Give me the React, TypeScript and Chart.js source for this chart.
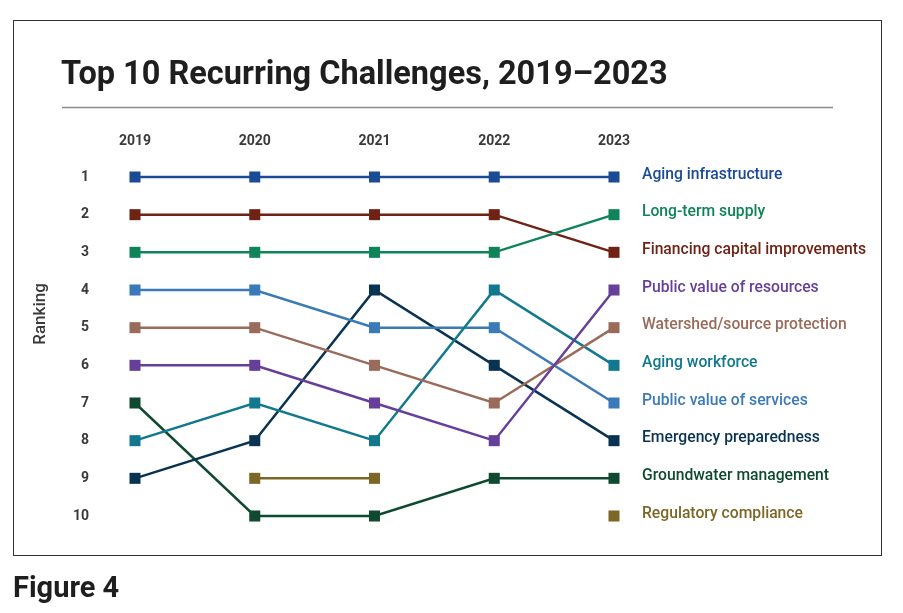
import { useEffect, useRef } from "react";
import { Chart, registerables } from "chart.js";

Chart.register(...registerables);

const years = ["2019", "2020", "2021", "2022", "2023"];
const rankMin = 1;
const rankMax = 10;

const seriesNames = [
  "Aging infrastructure",
  "Long-term supply",
  "Financing capital improvements",
  "Public value of resources",
  "Watershed/source protection",
  "Aging workforce",
  "Public value of services",
  "Emergency preparedness",
  "Groundwater management",
  "Regulatory compliance",
];

const agingInfrastructure = [1, 1, 1, 1, 1];
const longTermSupply = [3, 3, 3, 3, 2];
const financingCapital = [2, 2, 2, 2, 3];
const publicValueResources = [6, 6, 7, 8, 4];
const watershedProtection = [5, 5, 6, 7, 5];
const agingWorkforce = [8, 7, 8, 4, 6];
const publicValueServices = [4, 4, 5, 5, 7];
const emergencyPreparedness = [9, 8, 4, 6, 8];
const groundwaterManagement = [7, 10, 10, 9, 9];
const regulatoryCompliance = [null, 9, 9, null, 10];

const seriesColors = [
  "#1c4b96",
  "#0f8459",
  "#6e2315",
  "#653f9a",
  "#9a6b5a",
  "#117890",
  "#3a7ab8",
  "#0a3352",
  "#0f4a30",
  "#7c6726",
];

const titleText = "Top 10 Recurring Challenges, 2019\u20132023";
const figureText = "Figure 4";
const yTitleText = "Ranking";

export default function App() {
  const ref = useRef<HTMLCanvasElement | null>(null);

  useEffect(() => {
    if (!ref.current) return;
    const seriesData = [
      agingInfrastructure,
      longTermSupply,
      financingCapital,
      publicValueResources,
      watershedProtection,
      agingWorkforce,
      publicValueServices,
      emergencyPreparedness,
      groundwaterManagement,
      regulatoryCompliance,
    ];

    const decor = {
      id: "decor",
      afterDraw(chart: any) {
        const ctx = chart.ctx;
        const xs = chart.scales.x;
        const ys = chart.scales.y;
        ctx.save();
        // frame
        ctx.strokeStyle = "#333333";
        ctx.lineWidth = 1;
        ctx.strokeRect(13.5, 20.5, 868, 535);
        // title
        ctx.fillStyle = "#1e1e1e";
        ctx.font = "700 32.5px Roboto";
        ctx.textBaseline = "alphabetic";
        ctx.textAlign = "left";
        ctx.fillText(titleText, 61, 84);
        // rule
        ctx.strokeStyle = "#8a8a8a";
        ctx.lineWidth = 1.5;
        ctx.beginPath();
        ctx.moveTo(62, 107.5);
        ctx.lineTo(833, 107.5);
        ctx.stroke();
        // figure label
        ctx.fillStyle = "#1e1e1e";
        ctx.font = "700 29px Roboto";
        ctx.fillText(figureText, 13, 597);
        // y title
        ctx.save();
        ctx.translate(45, 314);
        ctx.rotate(-Math.PI / 2);
        ctx.textAlign = "center";
        ctx.textBaseline = "alphabetic";
        ctx.fillStyle = "#3a3a3a";
        ctx.font = "500 17px Roboto";
        ctx.fillText(yTitleText, 0, 0);
        ctx.restore();
        // right labels
        ctx.font = "500 15.7px Roboto";
        ctx.textAlign = "left";
        ctx.textBaseline = "alphabetic";
        seriesNames.forEach((name, i) => {
          const arr = seriesData[i];
          const last = arr[arr.length - 1];
          if (last == null) return;
          const y = ys.getPixelForValue(last);
          ctx.fillStyle = seriesColors[i];
          ctx.fillText(name, xs.right + 28, y + 1.5);
        });
        ctx.restore();
      },
    };

    const chart = new Chart(ref.current, {
      type: "line",
      data: {
        labels: years,
        datasets: seriesNames.map((name, i) => ({
          label: name,
          data: seriesData[i],
          borderColor: seriesColors[i],
          backgroundColor: seriesColors[i],
          borderWidth: 2.5,
          pointStyle: "rect",
          pointRadius: 7.8,
          pointHoverRadius: 7.8,
          pointBorderWidth: 0,
          spanGaps: false,
          tension: 0,
          clip: false,
        })),
      },
      options: {
        responsive: false,
        animation: false,
        devicePixelRatio: 1,
        layout: { padding: { top: 121, right: 289, bottom: 97, left: 0 } },
        plugins: {
          legend: { display: false },
          tooltip: { enabled: false },
          title: { display: false },
        },
        scales: {
          x: {
            type: "category",
            position: "top",
            offset: false,
            grid: { display: false, drawTicks: false },
            border: { display: false },
            ticks: {
              padding: 27,
              color: "#3a3a3a",
              font: { family: "Roboto", weight: "bold", size: 14 },
            },
            afterFit(scale: any) {
              scale.height = 56;
            },
          },
          y: {
            type: "linear",
            reverse: true,
            min: rankMin,
            max: rankMax,
            grid: { display: false, drawTicks: false },
            border: { display: false },
            ticks: {
              stepSize: 1,
              padding: 46,
              color: "#3a3a3a",
              font: { family: "Roboto", weight: "bold", size: 14 },
            },
            afterFit(scale: any) {
              scale.width = 135;
            },
          },
        },
      } as any,
      plugins: [decor],
    });
    return () => chart.destroy();
  }, []);

  return (
    <div style={{ position: "fixed", left: 0, top: 0, width: 903, height: 613, background: "#ffffff" }}>
      <canvas ref={ref} width={903} height={613} style={{ display: "block" }} />
    </div>
  );
}
